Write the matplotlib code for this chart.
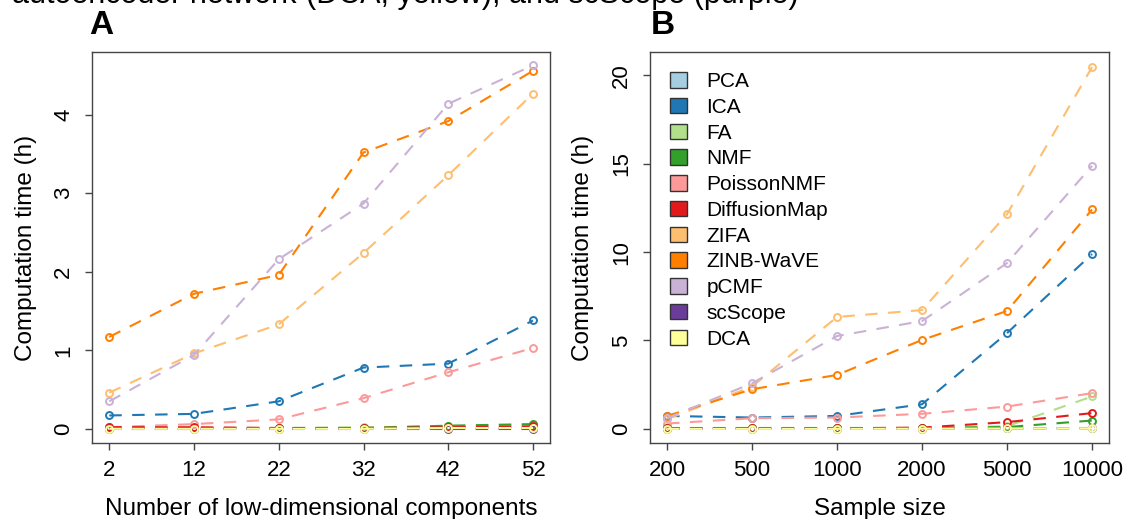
import matplotlib

matplotlib.use("Agg")
import matplotlib.pyplot as plt
from matplotlib.patches import Patch

plt.rcParams["font.family"] = ["Liberation Sans", "DejaVu Sans"]

methods = ["PCA", "ICA", "FA", "NMF", "PoissonNMF", "DiffusionMap",
           "ZIFA", "ZINB-WaVE", "pCMF", "scScope", "DCA"]
colors = ["#A6CEE3", "#1F78B4", "#B2DF8A", "#33A02C", "#FB9A99", "#E31A1C",
          "#FDBF6F", "#FF7F00", "#CAB2D6", "#6A3D9A", "#FFFF99"]

# panel A: computation time vs number of components
n_components = [2, 12, 22, 32, 42, 52]
time_by_components = {
    "PCA":          [0.01, 0.01, 0.01, 0.01, 0.02, 0.02],
    "ICA":          [0.17, 0.19, 0.35, 0.78, 0.83, 1.38],
    "FA":           [0.01, 0.01, 0.01, 0.02, 0.03, 0.05],
    "NMF":          [0.01, 0.01, 0.01, 0.01, 0.04, 0.06],
    "PoissonNMF":   [0.02, 0.06, 0.12, 0.39, 0.72, 1.03],
    "DiffusionMap": [0.02, 0.02, 0.01, 0.01, 0.02, 0.03],
    "ZIFA":         [0.46, 0.96, 1.33, 2.24, 3.23, 4.27],
    "ZINB-WaVE":    [1.17, 1.72, 1.96, 3.52, 3.92, 4.56],
    "pCMF":         [0.35, 0.94, 2.16, 2.87, 4.14, 4.63],
    "scScope":      [0.00, 0.00, 0.00, 0.00, 0.00, 0.00],
    "DCA":          [0.00, 0.00, 0.00, 0.00, 0.01, 0.01],
}

# panel B: computation time vs sample size
sample_sizes = ["200", "500", "1000", "2000", "5000", "10000"]
time_by_samples = {
    "PCA":          [0.02, 0.02, 0.02, 0.02, 0.03, 0.05],
    "ICA":          [0.73, 0.64, 0.73, 1.39, 5.42, 9.89],
    "FA":           [0.05, 0.05, 0.05, 0.05, 0.15, 1.83],
    "NMF":          [0.03, 0.03, 0.03, 0.05, 0.10, 0.47],
    "PoissonNMF":   [0.30, 0.60, 0.64, 0.85, 1.26, 2.02],
    "DiffusionMap": [0.03, 0.03, 0.03, 0.07, 0.38, 0.89],
    "ZIFA":         [0.55, 2.39, 6.33, 6.72, 12.15, 20.47],
    "ZINB-WaVE":    [0.73, 2.24, 3.05, 5.03, 6.67, 12.41],
    "pCMF":         [0.60, 2.58, 5.25, 6.10, 9.38, 14.88],
    "scScope":      [0.01, 0.01, 0.01, 0.01, 0.02, 0.03],
    "DCA":          [0.00, 0.00, 0.00, 0.01, 0.02, 0.03],
}

fig = plt.figure(figsize=(11.27, 5.19), dpi=100)
ax_a = fig.add_axes([0.0819, 0.1458, 0.4061, 0.754])
ax_b = fig.add_axes([0.5768, 0.1458, 0.4073, 0.754])


def draw_lines(ax, x, data):
    for name, col in zip(methods, colors):
        ax.plot(x, data[name], color=col, linestyle=(0, (6, 5)), linewidth=1.5,
                marker="o", markersize=5, markerfacecolor="none",
                markeredgewidth=1.4, markeredgecolor=col)


def style_axes(ax):
    for sp in ax.spines.values():
        sp.set_color("#444444")
        sp.set_linewidth(1.0)
    ax.tick_params(axis="both", direction="out", length=5, width=1.0,
                   color="#444444", labelsize=16)
    ax.tick_params(axis="x", pad=7)
    ax.tick_params(axis="y", pad=8)
    for lab in ax.get_yticklabels():
        lab.set_rotation(90)
        lab.set_va("center")


draw_lines(ax_a, n_components, time_by_components)
ax_a.set_xlim(0, 54)
ax_a.set_ylim(-0.185, 4.8)
ax_a.set_xticks(n_components)
ax_a.set_yticks([0, 1, 2, 3, 4])
ax_a.set_xlabel("Number of low-dimensional components", fontsize=17.5, labelpad=12)
ax_a.set_ylabel("Computation time (h)", fontsize=17.5, labelpad=12)
style_axes(ax_a)

xb = list(range(1, len(sample_sizes) + 1))
draw_lines(ax_b, xb, time_by_samples)
ax_b.set_xlim(0.8, 6.2)
ax_b.set_ylim(-0.82, 21.32)
ax_b.set_xticks(xb)
ax_b.set_xticklabels(sample_sizes)
ax_b.set_yticks([0, 5, 10, 15, 20])
ax_b.set_xlabel("Sample size", fontsize=17.5, labelpad=12)
ax_b.set_ylabel("Computation time (h)", fontsize=17.5, labelpad=12)
style_axes(ax_b)

handles = [Patch(facecolor=c, edgecolor="#333333", linewidth=1.0) for c in colors]
ax_b.legend(handles, methods, loc="upper left", bbox_to_anchor=(0.026, 0.97),
            frameon=False, fontsize=15, handlelength=0.78, handleheight=0.78,
            handletextpad=0.95, labelspacing=0.32, borderaxespad=0.0,
            borderpad=0.4)

fig.text(89 / 1127, 1 - 34 / 519, "A", fontsize=24, fontweight="bold",
         ha="left", va="baseline")
fig.text(651 / 1127, 1 - 34 / 519, "B", fontsize=24, fontweight="bold",
         ha="left", va="baseline")

# caption line cut off at the top of the reference
fig.text(296 / 1127, 1 - 3 / 519, "autoencoder network",
         fontsize=22, ha="right", va="baseline")
fig.text(306 / 1127, 1 - 3 / 519, "(DCA, yellow), and scScope (purple)",
         fontsize=22, ha="left", va="baseline")

fig.savefig("out.png", dpi=100)
